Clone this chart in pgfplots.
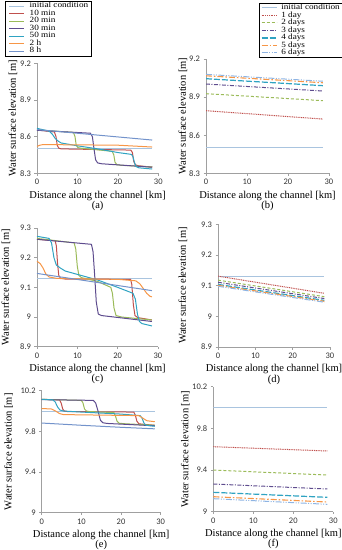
\documentclass[border=0pt]{standalone}
\usepackage{fontspec}
\setmainfont{Liberation Serif}
\newfontfamily\tickfont{Carlito}
\newfontfamily\legfont{Liberation Serif}[FakeStretch=1.15]
\usepackage{pgfplots}
\pgfplotsset{compat=1.18}

\definecolor{cinit}{HTML}{A9C4DF}
\definecolor{cred}{HTML}{C0504D}
\definecolor{cgreen}{HTML}{9BBB59}
\definecolor{cpurple}{HTML}{5E4C8E}
\definecolor{cteal}{HTML}{2FA3C2}
\definecolor{corange}{HTML}{F79646}
\definecolor{cblue}{HTML}{7393CB}
\definecolor{clblue}{HTML}{8EB4E3}
\definecolor{caxis}{HTML}{A0A0A0}

\pgfplotsset{
  panel/.style={
    scale only axis,
    xmin=0, xmax=30, xtick={0,10,20,30},
    axis lines=left, axis line style={caxis, -, line width=0.6pt},
    tick style={caxis, line width=0.6pt}, tick align=outside, major tick length=2.5pt,
    ticklabel style={font=\tickfont\fontsize{8.5}{9}\selectfont, text=black!80},
    /pgf/number format/assume math mode=true,
    ylabel={Water surface elevation [m]},
    ylabel style={at={(axis description cs:0,0.5)}, anchor=center, font=\fontsize{10.5}{11}\selectfont},
    xlabel style={at={(axis description cs:0.5,0)}, anchor=north, align=center, yshift=-17.5pt, inner sep=0pt, font=\fontsize{10.5}{10.2}\selectfont},
    legend cell align=left,
    legend image code/.code={\draw[##1] (0pt,0pt) -- (15pt,0pt);},
    legend style={draw=black, line width=0.4pt, font=\legfont\fontsize{8}{8}\selectfont,
      inner xsep=3.5pt, inner ysep=1pt, row sep=0pt, column sep=5pt,
      nodes={inner sep=0pt, text height=5.6pt, text depth=1.9pt}, anchor=north west},
  },
  sinit/.style={cinit, line width=0.9pt},
  sred/.style={cred, line width=1pt},
  sgreen/.style={cgreen, line width=1pt},
  spurple/.style={cpurple, line width=1pt},
  steal/.style={cteal, line width=1pt},
  sorange/.style={corange, line width=1pt},
  sblue/.style={cblue, line width=1pt},
  d1/.style={cred, line width=1pt, dash pattern=on 1pt off 0.8pt},
  d2/.style={cgreen, line width=1pt, dash pattern=on 3pt off 2pt},
  d3/.style={cpurple, line width=1pt, dash pattern=on 4pt off 1.5pt on 1pt off 1.5pt},
  d4/.style={cteal, line width=1.2pt, dash pattern=on 6pt off 2pt},
  d5/.style={corange, line width=1.1pt, dash pattern=on 6pt off 2pt on 1.5pt off 2pt},
  d6/.style={clblue, line width=1pt, dash pattern=on 6pt off 1.5pt on 1pt off 1.5pt on 1pt off 1.5pt},
}

\begin{document}
\begin{tikzpicture}
\useasboundingbox (0,0) rectangle (341pt,-550pt);

% ---------------- (a)
\begin{axis}[panel, at={(37pt,-173.3pt)}, anchor=south west, width=121.3pt, height=110pt,
  ymin=8.3, ymax=9.2, ytick={8.3,8.6,8.9,9.2},
  ylabel style={yshift=24pt},
  xlabel={Distance along the channel [km]\\(a)},
  legend style={at={(-0.264,1.565)}}]
\addplot[sinit] coordinates {(0,8.50) (28.5,8.50)};
\addplot[sred] coordinates {(0,8.655) (4.3,8.638) (4.7,8.60) (5.0,8.53) (5.4,8.505) (6,8.50) (23.2,8.49) (23.6,8.47) (23.9,8.40) (24.3,8.37) (25,8.362) (28.5,8.35)};
\addplot[sgreen] coordinates {(0,8.655) (9,8.635) (9.4,8.60) (9.7,8.53) (10.1,8.51) (11,8.505) (18.6,8.48) (19,8.45) (19.3,8.39) (19.8,8.37) (21,8.365) (28.5,8.352)};
\addplot[spurple] coordinates {(0,8.652) (13.2,8.628) (13.7,8.60) (14.1,8.50) (14.5,8.41) (15,8.385) (16,8.378) (28.5,8.35)};
\addplot[steal] coordinates {(0,8.668) (3,8.645) (3.8,8.62) (4.5,8.585) (5.3,8.562) (6,8.548) (10,8.525) (15,8.50) (20,8.47) (23.3,8.455) (23.7,8.44) (24.1,8.39) (24.5,8.355) (25.2,8.345) (28.5,8.335)};
\addplot[sorange] coordinates {(0,8.52) (0.7,8.53) (1.5,8.535) (20,8.53) (28.5,8.515)};
\addplot[sblue] coordinates {(0,8.658) (28.5,8.572)};
\legend{initial condition,10 min,20 min,30 min,50 min,2 h,8 h}
\end{axis}

% ---------------- (b)
\begin{axis}[panel, at={(206pt,-173.3pt)}, anchor=south west, width=123pt, height=114.3pt,
  ymin=8.3, ymax=9.2, ytick={8.3,8.6,8.9,9.2},
  ylabel style={yshift=23pt},
  xlabel={Distance along the channel [km]\\(b)},
  legend style={at={(0.43,1.49)}, inner xsep=2pt, column sep=4pt}]
\addplot[sinit] coordinates {(0,8.50) (28.5,8.50)};
\addplot[d1] coordinates {(0,8.793) (28.5,8.727)};
\addplot[d2] coordinates {(0,8.927) (28.5,8.872)};
\addplot[d3] coordinates {(0,9.003) (28.5,8.948)};
\addplot[d4] coordinates {(0,9.045) (28.5,8.990)};
\addplot[d5] coordinates {(0,9.068) (28.5,9.013)};
\addplot[d6] coordinates {(0,9.079) (28.5,9.025)};
\legend{initial condition,1 day,2 days,3 days,4 days,5 days,6 days}
\end{axis}

% ---------------- (c)
\begin{axis}[panel, at={(37pt,-346.7pt)}, anchor=south west, width=121pt, height=118.7pt,
  ymin=8.9, ymax=9.3, ytick={8.9,9,9.1,9.2,9.3},
  ylabel style={yshift=31pt},
  xlabel={Distance along the channel [km]\\(c)}]
\addplot[sinit] coordinates {(0,9.13) (28.5,9.13)};
\addplot[sred] coordinates {(0,9.262) (4.5,9.257) (4.8,9.24) (5.1,9.18) (5.4,9.14) (5.8,9.131) (7,9.128) (23.2,9.127) (23.5,9.11) (23.9,9.04) (24.3,9.005) (25,8.998) (28.5,8.99)};
\addplot[sgreen] coordinates {(0,9.265) (9.2,9.25) (9.6,9.23) (10,9.17) (10.4,9.14) (11,9.133) (15,9.12) (18.3,9.10) (18.7,9.08) (19.1,9.03) (19.6,9.005) (21,9.0) (28.5,8.99)};
\addplot[spurple] coordinates {(0,9.262) (13.5,9.245) (13.9,9.22) (14.3,9.14) (14.7,9.05) (15.2,9.01) (16,9.005) (28.5,8.985)};
\addplot[steal] coordinates {(0,9.272) (3,9.265) (3.6,9.25) (4.2,9.2) (4.8,9.175) (5.8,9.165) (7,9.155) (15,9.125) (20,9.1) (23.8,9.08) (24.4,9.06) (24.9,9.01) (25.4,8.985) (26,8.978) (28.5,8.97)};
\addplot[sorange] coordinates {(0,9.188) (0.8,9.18) (1.5,9.165) (2.2,9.145) (3,9.135) (5,9.13) (20,9.127) (24.5,9.122) (25.5,9.112) (26.3,9.097) (27.2,9.08) (28,9.07) (28.5,9.068)};
\addplot[sblue] coordinates {(0,9.147) (28.5,9.089)};
\end{axis}

% ---------------- (d)
\begin{axis}[panel, at={(218pt,-347pt)}, anchor=south west, width=112pt, height=122.7pt,
  ymin=8.9, ymax=9.3, ytick={8.9,9,9.1,9.2,9.3},
  ylabel style={yshift=35pt},
  xlabel={Distance along the channel [km]\\(d)}]
\addplot[sinit] coordinates {(0,9.13) (28.5,9.13)};
\addplot[d1] coordinates {(0,9.131) (28.5,9.075)};
\addplot[d2] coordinates {(0,9.118) (28.5,9.064)};
\addplot[d3] coordinates {(0,9.111) (28.5,9.058)};
\addplot[d4] coordinates {(0,9.104) (28.5,9.052)};
\addplot[d5] coordinates {(0,9.101) (28.5,9.049)};
\addplot[d6] coordinates {(0,9.098) (28.5,9.046)};
\end{axis}

% ---------------- (e)
\begin{axis}[panel, at={(41.7pt,-512.7pt)}, anchor=south west, width=119pt, height=122pt,
  ymin=9, ymax=10.2, ytick={9,9.4,9.8,10.2},
  ylabel style={yshift=33pt},
  xlabel={Distance along the channel [km]\\(e)}]
\addplot[sinit] coordinates {(0,10.0) (28.5,10.0)};
\addplot[sred] coordinates {(0,10.115) (4.5,10.11) (4.9,10.08) (5.3,10.02) (5.7,10.0) (6.5,9.995) (23.2,9.99) (23.6,9.96) (24,9.9) (24.5,9.875) (25.5,9.87) (28.5,9.86)};
\addplot[sgreen] coordinates {(0,10.115) (10,10.105) (10.4,10.08) (10.8,10.02) (11.3,10.0) (12,9.995) (18.2,9.985) (18.6,9.95) (19,9.9) (19.5,9.88) (21,9.875) (28.5,9.86)};
\addplot[spurple] coordinates {(0,10.112) (13,10.105) (13.6,10.08) (14.2,10.0) (14.8,9.91) (15.4,9.885) (16.5,9.878) (28.5,9.855)};
\addplot[steal] coordinates {(0,10.115) (2.8,10.11) (3.4,10.09) (4,10.04) (4.6,10.01) (5.5,10.0) (10,9.99) (20,9.97) (24.8,9.955) (25.3,9.93) (25.8,9.88) (26.3,9.86) (28.5,9.85)};
\addplot[sorange] coordinates {(0,10.025) (2.5,10.02) (3.5,10.0) (4.5,9.975) (5.5,9.965) (15,9.96) (24.5,9.955) (25.5,9.93) (26.5,9.905) (28.5,9.895)};
\addplot[sblue] coordinates {(0,9.882) (10,9.86) (20,9.84) (28.5,9.825)};
\end{axis}

% ---------------- (f)
\begin{axis}[panel, at={(213.3pt,-511.7pt)}, anchor=south west, width=120pt, height=125pt,
  ymin=9, ymax=10.2, ytick={9,9.4,9.8,10.2},
  ylabel style={yshift=28pt},
  xlabel={Distance along the channel [km]\\(f)}]
\addplot[sinit] coordinates {(0,10.0) (28.5,10.0)};
\addplot[d1] coordinates {(0,9.624) (28.5,9.583)};
\addplot[d2] coordinates {(0,9.400) (28.5,9.352)};
\addplot[d3] coordinates {(0,9.266) (28.5,9.218)};
\addplot[d4] coordinates {(0,9.186) (28.5,9.138)};
\addplot[d5] coordinates {(0,9.144) (28.5,9.093)};
\addplot[d6] coordinates {(0,9.125) (28.5,9.071)};
\end{axis}
\end{tikzpicture}
\end{document}
